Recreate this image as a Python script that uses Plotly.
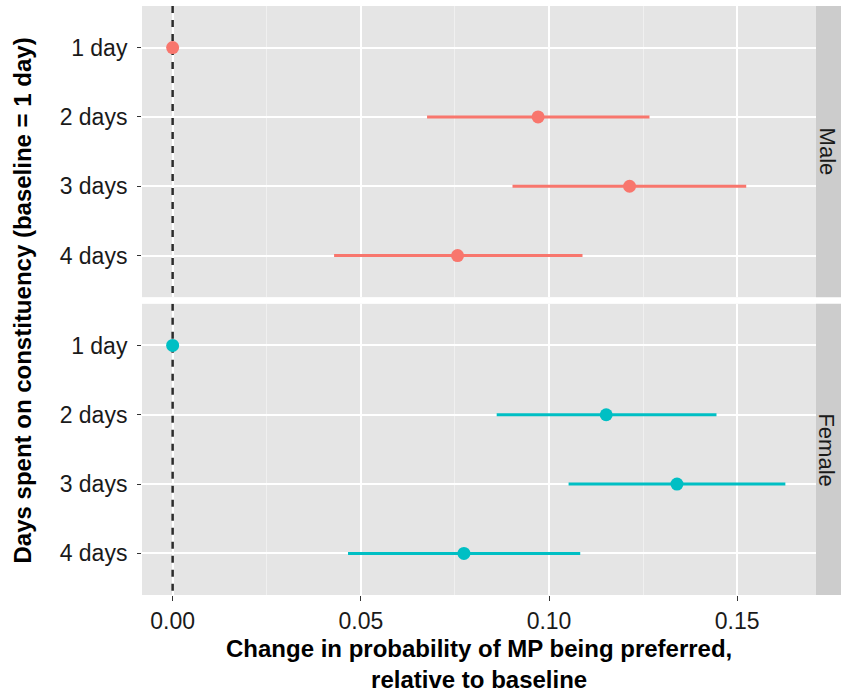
import plotly.graph_objects as go
from plotly.subplots import make_subplots

# ---- data ----
days = ["1 day", "2 days", "3 days", "4 days"]
male_est = [0.0, 0.0971, 0.1214, 0.0757]
male_lo = [0.0, 0.0676, 0.0903, 0.0429]
male_hi = [0.0, 0.1267, 0.1524, 0.1089]
female_est = [0.0, 0.1152, 0.1340, 0.0774]
female_lo = [0.0, 0.0861, 0.1052, 0.0466]
female_hi = [0.0, 0.1445, 0.1628, 0.1083]
panels = ["Male", "Female"]
x_ticks = [0.0, 0.05, 0.10, 0.15]
x_ticktext = ["0.00", "0.05", "0.10", "0.15"]

colors = {"Male": "#F8766D", "Female": "#00BFC4"}
FONT = "Liberation Sans, Arial, sans-serif"
TICK_SIZE = 23
TITLE_SIZE = 24
STRIP_SIZE = 22

fig = make_subplots(rows=2, cols=1, shared_xaxes=True, vertical_spacing=0.0114)

series = {
    "Male": (male_est, male_lo, male_hi),
    "Female": (female_est, female_lo, female_hi),
}
for i, name in enumerate(panels, start=1):
    est, lo, hi = series[name]
    fig.add_trace(
        go.Scatter(
            x=est, y=days, mode="markers",
            marker=dict(size=13, color=colors[name], line=dict(width=0)),
            error_x=dict(type="data", symmetric=False,
                         array=[h - e for h, e in zip(hi, est)],
                         arrayminus=[e - l for e, l in zip(est, lo)],
                         thickness=3, width=0, color=colors[name]),
            showlegend=False, cliponaxis=False,
        ),
        row=i, col=1,
    )

all_lo = min(male_lo + female_lo + male_est + female_est)
all_hi = max(male_hi + female_hi + male_est + female_est)
span = all_hi - all_lo
xrange = [all_lo - 0.05 * span, all_hi + 0.05 * span]
yrange = [len(days) - 1 + 0.6, -0.6]

gap_px = 6.7
plot_h = 693 - 6 - 98
half = (1 - gap_px / plot_h) / 2
domains = [[1 - half, 1.0], [0.0, half]]

for i in (1, 2):
    xa = "xaxis" if i == 1 else "xaxis2"
    ya = "yaxis" if i == 1 else "yaxis2"
    fig.layout[xa].update(
        range=xrange, tickvals=x_ticks, ticktext=x_ticktext,
        showgrid=True, gridcolor="white", gridwidth=2,
        minor=dict(tick0=0.025, dtick=0.05, showgrid=True,
                   gridcolor="#F0F0F0", gridwidth=1, ticks=""),
        zeroline=False, showline=False,
        ticks="outside" if i == 2 else "", ticklen=5, tickwidth=1.2,
        tickcolor="#333333",
        showticklabels=(i == 2),
        tickfont=dict(family=FONT, size=TICK_SIZE, color="#1A1A1A"),
    )
    fig.layout[ya].update(
        domain=domains[i - 1],
        type="category", categoryorder="array", categoryarray=days,
        range=yrange, autorange=False,
        showgrid=True, gridcolor="white", gridwidth=2,
        zeroline=False, showline=False,
        ticks="outside", ticklen=4, tickwidth=1.2, tickcolor="#333333",
        ticklabelstandoff=5,
        tickfont=dict(family=FONT, size=TICK_SIZE, color="#1A1A1A"),
    )

shapes = []
annotations = []
strip_w = 25 / 674
for i, name in enumerate(panels, start=1):
    xr = "x" if i == 1 else "x2"
    yr = "y" if i == 1 else "y2"
    yd = "y domain" if i == 1 else "y2 domain"
    shapes.append(dict(type="line", xref=xr, yref=yr, x0=0, x1=0,
                       y0=yrange[1], y1=yrange[0],
                       line=dict(color="#2B2B2B", width=2.5, dash="7px,7px"),
                       layer="between"))
    shapes.append(dict(type="rect", xref="paper", yref=yd, x0=1, x1=1 + strip_w,
                       y0=0, y1=1, fillcolor="#CCCCCC", line=dict(width=0),
                       layer="below"))
    annotations.append(dict(text=name, xref="paper", yref=yd, x=1 + strip_w / 2,
                            y=0.5, showarrow=False, textangle=90,
                            xanchor="center", yanchor="middle", xshift=-1.5,
                            borderpad=0,
                            font=dict(family=FONT, size=STRIP_SIZE, color="#1A1A1A")))

annotations.append(dict(
    text="<b>Change in probability of MP being preferred,<br>relative to baseline</b>",
    xref="paper", yref="paper", x=0.5, y=0, xanchor="center", yanchor="middle",
    yshift=-69, showarrow=False, align="center",
    font=dict(family=FONT, size=TITLE_SIZE, color="black")))
annotations.append(dict(
    text="<b>Days spent on constituency (baseline = 1 day)</b>",
    xref="paper", yref="paper", x=0, y=0.5, xanchor="center", yanchor="middle",
    xshift=-120, showarrow=False, textangle=-90,
    font=dict(family=FONT, size=TITLE_SIZE, color="black")))

fig.update_layout(
    width=841, height=693,
    margin=dict(l=142, r=25, t=6, b=98),
    paper_bgcolor="white", plot_bgcolor="#E5E5E5",
    shapes=shapes, annotations=annotations, showlegend=False,
)

fig.write_html("out.html")
